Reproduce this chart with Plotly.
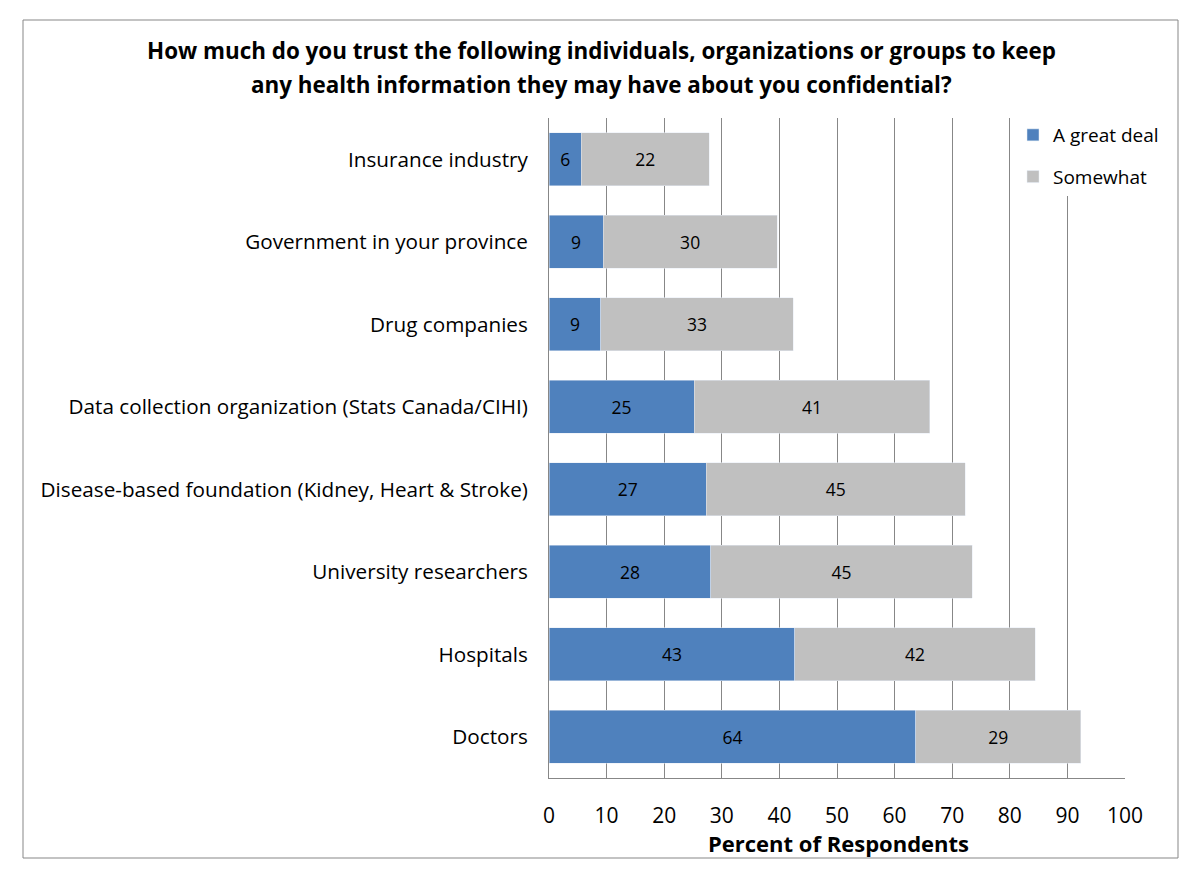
import plotly.graph_objects as go

categories = [
    "Insurance industry",
    "Government in your province",
    "Drug companies",
    "Data collection organization (Stats Canada/CIHI)",
    "Disease-based foundation (Kidney, Heart & Stroke)",
    "University researchers",
    "Hospitals",
    "Doctors",
]
great_deal = [5.6, 9.4, 9.0, 25.2, 27.3, 28.1, 42.7, 63.7]
somewhat = [22.2, 30.2, 33.4, 40.9, 45.0, 45.4, 41.7, 28.6]
x_ticks = [0, 10, 20, 30, 40, 50, 60, 70, 80, 90, 100]
title_lines = [
    "How much do you trust the following individuals, organizations or groups to keep",
    "any health information they may have about you confidential?",
]

FONT = "Open Sans"
# page body has an 8px margin, so the figure is drawn 8px in from the window corner
OFF = 8
W, H = 1200 - OFF, 882 - OFF
PX0, PX1, PY0, PY1 = 549, 1125, 118, 778   # plot area in window pixels
L, T = PX0 - OFF, PY0 - OFF
R, B = W - L - (PX1 - PX0), H - T - (PY1 - PY0)
pw, ph = PX1 - PX0, PY1 - PY0


def px(x):
    return (x - PX0) / pw


def py(y):
    return (PY1 - y) / ph


fig = go.Figure()
fig.add_trace(go.Bar(
    y=categories, x=great_deal, name="A great deal", orientation="h",
    marker=dict(color="#4F81BD"), legendgroup="a",
    texttemplate="%{x:.0f}", textposition="inside", insidetextanchor="middle",
    textfont=dict(family=FONT, size=17.5, color="#000000"),
))
fig.add_trace(go.Bar(
    y=categories, x=somewhat, name="Somewhat", orientation="h",
    marker=dict(color="#C0C0C0"), legendgroup="b",
    texttemplate="%{x:.0f}", textposition="inside", insidetextanchor="middle",
    textfont=dict(family=FONT, size=17.5, color="#000000"),
))

annotations = [
    dict(text=f"<b>{title_lines[0]}</b>", x=px(601), y=py(50), xref="paper", yref="paper",
         xanchor="center", yanchor="middle", showarrow=False,
         font=dict(family=FONT, size=22.4, color="#000000")),
    dict(text=f"<b>{title_lines[1]}</b>", x=px(601), y=py(85), xref="paper", yref="paper",
         xanchor="center", yanchor="middle", showarrow=False,
         font=dict(family=FONT, size=22.4, color="#000000")),
    dict(text="<b>Percent of Respondents</b>", x=px(838), y=py(843), xref="paper", yref="paper",
         xanchor="center", yanchor="middle", showarrow=False,
         font=dict(family=FONT, size=22, color="#000000")),
]

fig.update_layout(
    width=W, height=H,
    margin=dict(l=L, r=R, t=T, b=B),
    barmode="stack", bargap=0.36,
    paper_bgcolor="white", plot_bgcolor="white",
    font=dict(family=FONT, size=19, color="#000000"),
    legend=dict(
        x=px(1013), y=py(116), xanchor="left", yanchor="top",
        bgcolor="white", font=dict(family=FONT, size=19),
        traceorder="grouped", tracegroupgap=14, itemwidth=30,
    ),
    uniformtext=dict(mode="show", minsize=10),
    xaxis=dict(
        range=[0, 100], tickvals=x_ticks, showgrid=True, gridcolor="#878787",
        gridwidth=1, showline=True, linecolor="#878787", linewidth=1,
        zeroline=False, ticks="", ticklabelstandoff=19,
        tickfont=dict(family=FONT, size=21),
    ),
    yaxis=dict(
        autorange="reversed", showline=True, linecolor="#878787", linewidth=1,
        ticks="", ticklabelstandoff=16, tickfont=dict(family=FONT, size=20.7),
        showgrid=False,
    ),
    annotations=annotations,
    shapes=[dict(
        type="rect", xref="paper", yref="paper",
        x0=px(23), x1=px(1178), y0=py(858), y1=py(20),
        line=dict(color="#878787", width=1), fillcolor="rgba(0,0,0,0)", layer="below",
    )],
)

fig.write_html("out.html")
